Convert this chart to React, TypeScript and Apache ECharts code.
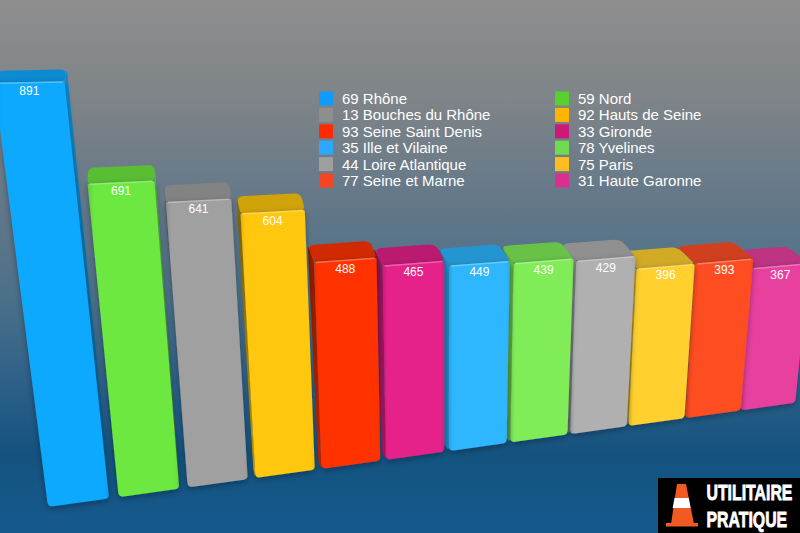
import React, { useEffect, useRef } from "react";
import * as echarts from "echarts";

const departments = ["69 Rhône", "59 Nord", "13 Bouches du Rhône", "92 Hauts de Seine", "93 Seine Saint Denis", "33 Gironde", "35 Ille et Vilaine", "78 Yvelines", "44 Loire Atlantique", "75 Paris", "77 Seine et Marne", "31 Haute Garonne"];
const values = [891, 691, 641, 604, 488, 465, 449, 439, 429, 396, 393, 367];
const barColors = ["#0DA9FF", "#6CE840", "#A0A0A0", "#FFC70C", "#FF3300", "#E4208A", "#2DB6FF", "#80EC58", "#B0B0B0", "#FFD02E", "#FF4E24", "#E8409F"];
const legendColors = ["#0F9BFF", "#58D030", "#8E8E8E", "#FFB400", "#FF2A00", "#CC1878", "#2AA9FF", "#70DA50", "#9F9F9F", "#FFBE20", "#F54522", "#D83090"];

const W = 800;
const H = 533;

type Pt = [number, number];

function height(t: number, v: number, s: number) {
  return v * (0.3874 - 0.0035 * t + 0.000095 * v - 0.004 * s);
}
function project(t: number, v: number, s: number): Pt {
  const c = 78.5 + 71.2 * t - 0.777 * t * t;
  const hw = 30.5 - 0.27 * t;
  const bx = c + s * hw;
  const by = 507 - 0.1395 * (bx - 48);
  const h = height(t, v, s);
  return [bx + (bx - 445) * (0.00026 + 0.00000014 * h) * h, by - h];
}
function shade(hex: string, f: number) {
  const n = parseInt(hex.slice(1), 16);
  const m = (x: number) => Math.max(0, Math.min(255, Math.round(f <= 1 ? x * f : x + (255 - x) * (f - 1))));
  return `rgb(${m((n >> 16) & 255)},${m((n >> 8) & 255)},${m(n & 255)})`;
}
function rounded(pts: Pt[], radii: number[]): Pt[] {
  const out: Pt[] = [];
  const n = pts.length;
  pts.forEach((p, i) => {
    const a = pts[(i + n - 1) % n];
    const b = pts[(i + 1) % n];
    const r = radii[i];
    const la = Math.hypot(a[0] - p[0], a[1] - p[1]);
    const lb = Math.hypot(b[0] - p[0], b[1] - p[1]);
    const p0: Pt = [p[0] + ((a[0] - p[0]) * r) / la, p[1] + ((a[1] - p[1]) * r) / la];
    const p1: Pt = [p[0] + ((b[0] - p[0]) * r) / lb, p[1] + ((b[1] - p[1]) * r) / lb];
    for (let k = 0; k <= 5; k++) {
      const u = k / 5;
      out.push([
        (1 - u) * (1 - u) * p0[0] + 2 * u * (1 - u) * p[0] + u * u * p1[0],
        (1 - u) * (1 - u) * p0[1] + 2 * u * (1 - u) * p[1] + u * u * p1[1],
      ]);
    }
  });
  return out;
}

function renderBar(params: any, api: any) {
  const i = api.value(0);
  const raw = api.value(1);
  const top = api.coord([i, raw]);
  const base = api.coord([i, 0]);
  const g0 = api.coord([-0.5, 0]);
  const g1 = api.coord([11.5, 1000]);
  const t = ((top[0] - g0[0]) / (g1[0] - g0[0])) * 12 - 0.5;
  const v = ((base[1] - top[1]) / (g0[1] - g1[1])) * 1000;
  const col = barColors[i];
  const tl = project(t, v, -1);
  const tr = project(t, v, 1);
  const bl = project(t, 0, -1);
  const br = project(t, 0, 1);
  const dx = 2.5 - 2.2 * t;
  const dy = -17 + 5 / (1 + 4 * t * t);
  const backL: Pt = [tl[0] + dx, tl[1] + dy];
  const backR: Pt = [tr[0] + dx, tr[1] + dy];
  const children: any[] = [];
  const leftSide = dx < 0;
  const fTop = leftSide ? tl : tr;
  const fBot = leftSide ? bl : br;
  const bTop = leftSide ? backL : backR;
  const bBot: Pt = [fBot[0] + dx * 0.5, fBot[1] - 8];
  children.push({
    type: "polygon",
    shape: { points: rounded([bTop, fTop, fBot, bBot], [3, 1, 4, 3]) },
    style: {
      fill: new echarts.graphic.LinearGradient(leftSide ? 0 : 1, 0, leftSide ? 1 : 0, 0, [
        { offset: 0, color: shade(col, 0.5) },
        { offset: 1, color: shade(col, 0.85) },
      ]),
    },
  });
  children.push({
    type: "polygon",
    shape: { points: rounded([tl, tr, backR, backL], [3, 4, 7, 7]) },
    style: { fill: shade(col, 0.82) },
  });
  children.push({
    type: "polygon",
    shape: { points: rounded([tl, tr, br, bl], [2, 2, 4, 5]) },
    style: {
      shadowBlur: 6,
      shadowColor: "rgba(0,10,30,0.35)",
      shadowOffsetY: 2,
      fill: new echarts.graphic.LinearGradient(0, 0, 1, 0, [
        { offset: 0, color: shade(col, 0.9) },
        { offset: 0.07, color: col },
        { offset: 0.95, color: col },
        { offset: 1, color: shade(col, 0.95) },
      ]),
    },
  });
  children.push({
    type: "polyline",
    shape: { points: [[tl[0] + 2, tl[1] + 0.5], [tr[0] - 2, tr[1] + 0.5]] },
    style: { stroke: shade(col, 1.4), lineWidth: 1.5, fill: "none", opacity: 0.7 },
  });
  children.push({
    type: "text",
    style: {
      text: String(raw),
      x: (tl[0] + tr[0]) / 2,
      y: (tl[1] + tr[1]) / 2 + 9,
      fill: "#ffffff",
      font: '12px "Liberation Sans"',
      align: "center",
      verticalAlign: "middle",
    },
  });
  return { type: "group", children };
}

const legendBase = {
  orient: "vertical" as const,
  itemWidth: 14,
  itemHeight: 14,
  itemGap: 1.4,
  padding: 0,
  selectedMode: false,
  icon: "rect",
  textStyle: { color: "#ffffff", fontSize: 15, lineHeight: 14, fontFamily: "Liberation Sans", padding: [0, 0, 0, 4] },
};

export default function App() {
  const ref = useRef<HTMLDivElement>(null);
  useEffect(() => {
    const chart = echarts.init(ref.current!, null, { renderer: "svg", width: W, height: H });
    const legendItems = departments.map((name, i) => ({ name, itemStyle: { color: legendColors[i] } }));
    chart.setOption({
      animation: false,
      backgroundColor: new echarts.graphic.LinearGradient(0, 0, 0, 1, [
        { offset: 0, color: "#8E8E8E" },
        { offset: 0.19, color: "#7E8488" },
        { offset: 0.375, color: "#647889" },
        { offset: 0.56, color: "#4B7089" },
        { offset: 0.71, color: "#2F6188" },
        { offset: 0.85, color: "#145380" },
        { offset: 1, color: "#15598C" },
      ]),
      grid: { left: 0, right: 0, top: 0, bottom: 0 },
      xAxis: { type: "value", min: -0.5, max: 11.5, show: false },
      yAxis: { type: "value", min: 0, max: 1000, show: false },
      legend: [
        { ...legendBase, left: 319, top: 91, data: legendItems.filter((_, i) => i % 2 === 0) },
        { ...legendBase, left: 555, top: 91, data: legendItems.filter((_, i) => i % 2 === 1) },
      ],
      series: departments.map((name, i) => ({
        type: "custom",
        name,
        z: 20 - i,
        clip: false,
        silent: true,
        itemStyle: { color: barColors[i] },
        renderItem: renderBar,
        encode: { x: 0, y: 1 },
        data: [[i, values[i]]],
      })),
      graphic: [
        {
          type: "group",
          z: 100,
          children: [
            { type: "rect", shape: { x: 658, y: 478, width: 142, height: 55 }, style: { fill: "#000000" } },
            { type: "polygon", shape: { points: [[677, 484], [686, 484], [694, 524], [671, 524]] }, style: { fill: "#F15A22" } },
            { type: "polygon", shape: { points: [[674.5, 498], [688.7, 498], [690.6, 508], [672.6, 508]] }, style: { fill: "#FFFFFF" } },
            { type: "rect", shape: { x: 666, y: 523, width: 32, height: 3.5 }, style: { fill: "#F15A22" } },
            { type: "text", x: 706.5, y: 492.5, scaleX: 0.72, style: { text: "UTILITAIRE", x: 0, y: 0, fill: "#FFFFFF", stroke: "#FFFFFF", lineWidth: 0.8, font: 'bold 22px "Liberation Sans"', verticalAlign: "middle" } },
            { type: "text", x: 706.5, y: 519.5, scaleX: 0.72, style: { text: "PRATIQUE", x: 0, y: 0, fill: "#FFFFFF", stroke: "#FFFFFF", lineWidth: 0.8, font: 'bold 22px "Liberation Sans"', verticalAlign: "middle" } },
          ],
        },
      ],
    });
    return () => chart.dispose();
  }, []);
  return <div ref={ref} style={{ position: "absolute", left: 0, top: 0, width: W, height: H }} />;
}
